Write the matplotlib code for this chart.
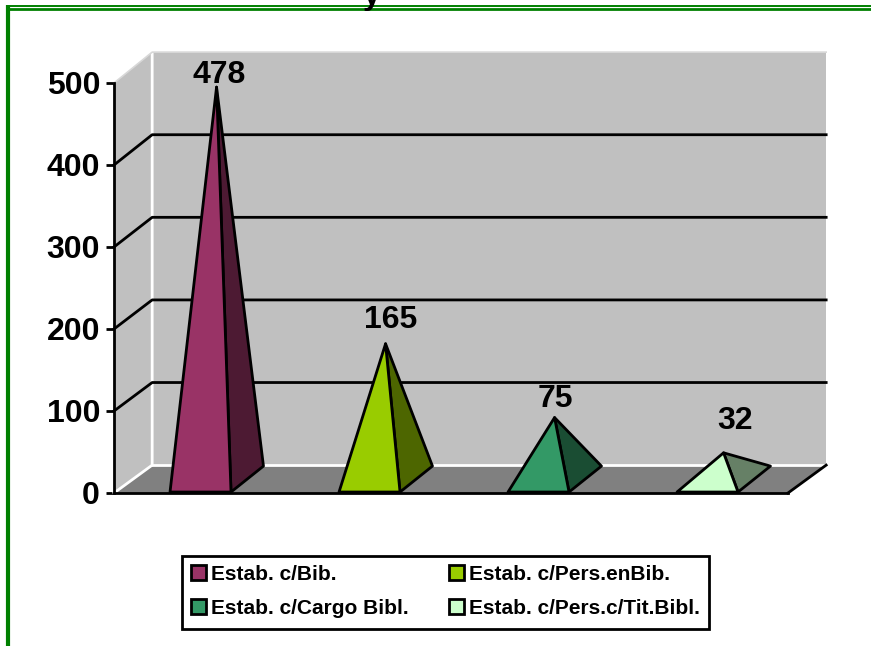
import matplotlib
matplotlib.use("Agg")
import matplotlib.pyplot as plt
from matplotlib.lines import Line2D
from matplotlib.patches import Patch, Polygon, Rectangle

plt.rcParams['font.family'] = ['Liberation Sans', 'DejaVu Sans']
plt.rcParams['font.weight'] = 'bold'

# chart data
categories = ["Estab. c/Bib.", "Estab. c/Pers.enBib.", "Estab. c/Cargo Bibl.", "Estab. c/Pers.c/Tit.Bibl."]
values = [478, 165, 75, 32]
y_ticks = [0, 100, 200, 300, 400, 500]

# colours
front_colors = ["#993366", "#99cc00", "#339966", "#ccffcc"]
side_colors = ["#4d1a33", "#4d6600", "#1a4d33", "#668066"]

# 3d look, in data units
depth_x = 0.2265
depth_y = 34
wall_scale = 1.0073
half_w = 0.181
pitch = 1.003
# label offsets in pixels from the apex
label_offsets = [(3, -3), (5, 9), (1, 4), (11, 17)]

W, H = 871, 646
fig = plt.figure(figsize=(W / 100, H / 100), dpi=100)

# green frame round the page
green = "#008000"
def frame_line(x0, y0, x1, y1, lw):
    fig.add_artist(Line2D([x0 / W, x1 / W], [1 - y0 / H, 1 - y1 / H], color=green, lw=lw, solid_capstyle='butt'))
frame_line(6, 5.8, W, 5.8, 1.4)
frame_line(6, 9, W, 9, 2)
frame_line(8, 5, 8, H, 3)

# cut off title, only the tail of the letter shows
fig.text(372 / W, 1 - 4 / H, "y", fontsize=23, ha='center', va='baseline', color='black')

ax = fig.add_axes([114 / W, (H - 493) / H, 674 / W, 410 / H])
ax.set_xlim(0, len(values))
ax.set_ylim(0, 500)
ax.patch.set_visible(False)

top = y_ticks[-1]
end = len(values)
back_top = top * wall_scale + depth_y

# walls and floor
ax.add_patch(Polygon([(depth_x, depth_y), (end + depth_x, depth_y), (end + depth_x, back_top), (depth_x, back_top)],
                     fc="#c0c0c0", ec="none", zorder=1, clip_on=False))
ax.add_patch(Polygon([(0, 0), (depth_x, depth_y), (depth_x, back_top), (0, top)],
                     fc="#c0c0c0", ec="none", zorder=1, clip_on=False))
ax.add_patch(Polygon([(0, 0), (end, 0), (end + depth_x, depth_y), (depth_x, depth_y)],
                     fc="#808080", ec="none", zorder=1, clip_on=False))

# white edges of the walls
ax.plot([0, depth_x, depth_x], [0, depth_y, back_top], color='white', lw=2, zorder=2, clip_on=False)
ax.plot([depth_x, end + depth_x], [depth_y, depth_y], color='white', lw=2, zorder=2, clip_on=False)
ax.plot([0, depth_x, end + depth_x], [top, back_top, back_top],
        color='#d8d8d8', lw=1.2, zorder=2, clip_on=False)
ax.plot([end, end + depth_x], [0, depth_y], color='black', lw=2, zorder=3, clip_on=False)

# gridlines
for t in y_ticks[1:-1]:
    ax.plot([0, depth_x, end + depth_x], [t, t * wall_scale + depth_y, t * wall_scale + depth_y],
            color='black', lw=2, zorder=3, clip_on=False)

# pyramids
for i, v in enumerate(values):
    c = (i + 0.5) * pitch + 0.012
    apex = (c + depth_x * 0.42, v + depth_y / 2)
    base_y = 1.2
    ax.add_patch(Polygon([(c + half_w, base_y), (c + half_w + depth_x * 0.85, base_y + depth_y * 0.93), apex],
                         fc=side_colors[i], ec='black', lw=2, joinstyle='round', zorder=4, clip_on=False))
    ax.add_patch(Polygon([(c - half_w, base_y), (c + half_w, base_y), apex],
                         fc=front_colors[i], ec='black', lw=2, joinstyle='round', zorder=5, clip_on=False))
    ax.annotate(str(v), xy=apex, xytext=(label_offsets[i][0] * 0.72, label_offsets[i][1] * 0.72),
                textcoords='offset points', ha='center', va='bottom', fontsize=23,
                annotation_clip=False, zorder=6)

# axes
for s in ['top', 'right']:
    ax.spines[s].set_visible(False)
for s in ['left', 'bottom']:
    ax.spines[s].set_linewidth(2)
    ax.spines[s].set_zorder(7)
ax.set_xticks([])
ax.set_yticks(y_ticks)
ax.tick_params(axis='y', labelsize=23, length=6, width=2, pad=4)

# legend box drawn apart, the legend's own padding is the same on all sides
fig.add_artist(Rectangle((182 / W, 1 - 629 / H), 527 / W, 73 / H, transform=fig.transFigure,
                         fc='white', ec='black', lw=2, zorder=4))
handles = [Patch(fc=f, ec='black', lw=2, label=n) for f, n in zip(front_colors, categories)]
# matplotlib fills columns first, so order it for the 2x2 layout
order = [0, 2, 1, 3]
leg = fig.legend([handles[i] for i in order], [categories[i] for i in order], ncol=2, loc='center',
                 bbox_to_anchor=(445.5 / W, 1 - 591 / H), fontsize=15, frameon=False,
                 handlelength=0.72, handleheight=0.72,
                 handletextpad=0.25, columnspacing=1.95, labelspacing=0.72, borderpad=0.3)
leg.set_zorder(5)

fig.savefig("out.png", dpi=100)
